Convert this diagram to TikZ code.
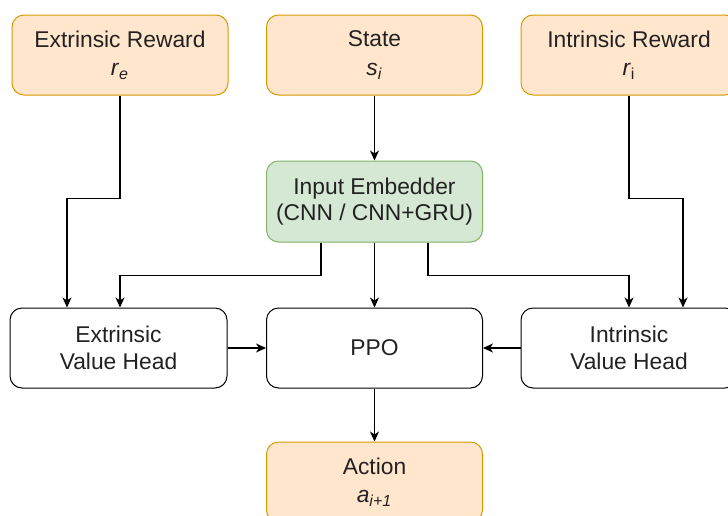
\documentclass[tikz,border=0pt]{standalone}
\usepackage{fontspec}
\setmainfont{Liberation Sans}
\usetikzlibrary{arrows.meta}
\definecolor{orfill}{HTML}{FFE6CC}
\definecolor{ordraw}{HTML}{D79B00}
\definecolor{grfill}{HTML}{D5E8D4}
\definecolor{grdraw}{HTML}{82B366}
\definecolor{txt}{HTML}{222222}
\begin{document}
\begin{tikzpicture}[x=0.5pt,y=-0.5pt,
  box/.style={draw=black, rounded corners=6pt, line width=0.5pt, minimum width=108pt, minimum height=40pt,
    align=center, inner sep=0pt, font=\fontsize{11.4}{13.2}\selectfont, text=txt},
  orbox/.style={box, fill=orfill, draw=ordraw},
  grbox/.style={box, fill=grfill, draw=grdraw},
  wbox/.style={box, fill=white},
  arr/.style={line width=0.6pt, -{Stealth[length=5pt,width=4.5pt,inset=1.5pt]}}]
\useasboundingbox (0,0) rectangle (728,515);
\fill[white] (0,0) rectangle (728,515);
\node[orbox] (er) at (120,55) {Extrinsic Reward\\[1pt] \textit{r}\textsubscript{\textit{e}}};
\node[orbox] (st) at (374.5,55) {State\\[1pt] \textit{s}\textsubscript{\textit{i}}};
\node[orbox] (ir) at (629,55) {Intrinsic Reward\\[1pt] \textit{r}\textsubscript{i}};
\node[grbox, minimum height=40.5pt] (emb) at (374.5,201.5) {Input Embedder\\(CNN / CNN+GRU)};
\node[wbox, minimum width=108.5pt] (evh) at (118.5,348) {Extrinsic\\Value Head};
\node[wbox] (ppo) at (374.5,348) {PPO};
\node[wbox] (ivh) at (629,348) {Intrinsic\\Value Head};
\node[orbox] (act) at (374.5,482) {Action\\[1pt] \textit{a}\textsubscript{\textit{i+1}}};
% connectors
\draw[arr] (st) -- (emb);
\draw[arr] (er.south) -- ++(0,103) -| ([xshift=-25.75pt]evh.north);
\draw[arr] ([xshift=-26.75pt]emb.south) -- ++(0,33) -| ([xshift=0.75pt]evh.north);
\draw[arr] (emb) -- (ppo);
\draw[arr] ([xshift=26.75pt]emb.south) -- ++(0,33) -| (ivh.north);
\draw[arr] (ir.south) -- ++(0,103) -| ([xshift=27pt]ivh.north);
\draw[arr] (evh) -- (ppo);
\draw[arr] (ivh) -- (ppo);
\draw[arr] (ppo) -- (act);
\end{tikzpicture}
\end{document}
